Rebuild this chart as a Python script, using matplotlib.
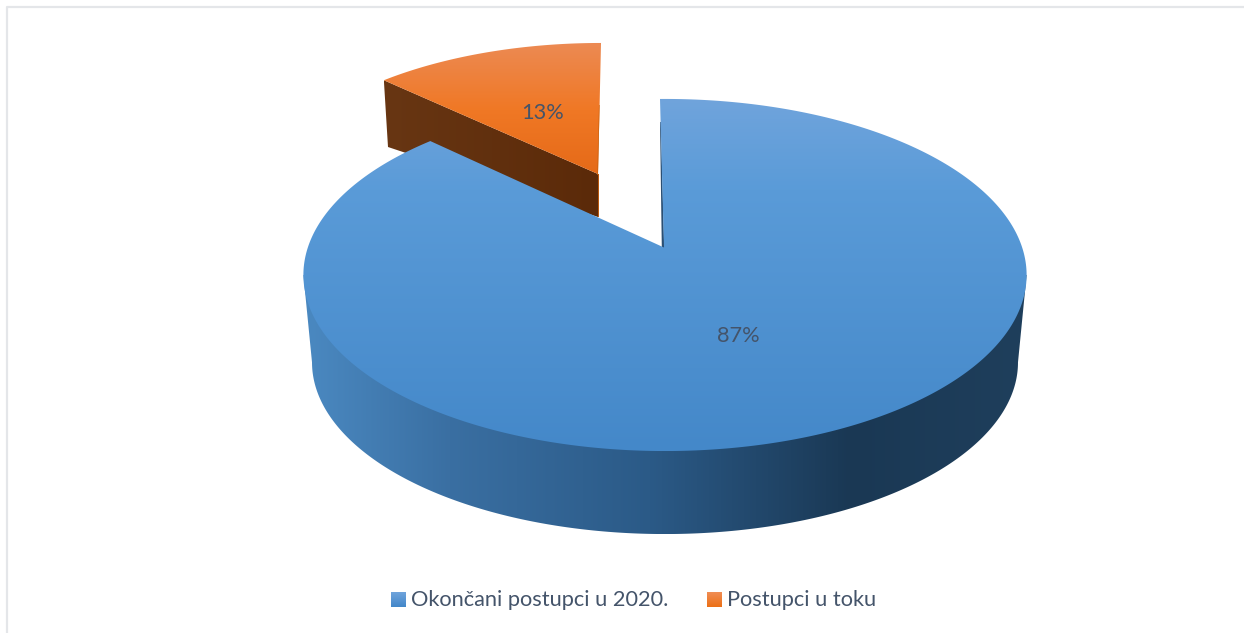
import numpy as np
import matplotlib
matplotlib.use("Agg")
import matplotlib.pyplot as plt
from matplotlib.patches import Polygon
from matplotlib.colors import to_rgb

categories = ["Okončani postupci u 2020.", "Postupci u toku"]
values = [87, 13]
TEXT = "#44546a"

plt.rcParams["font.family"] = ["Lato", "DejaVu Sans"]
fig = plt.figure(figsize=(12.44, 6.33), dpi=100)
ax = fig.add_axes([0, 0, 1, 1])
ax.set_xlim(0, 1244)
ax.set_ylim(633, 0)
ax.axis("off")

K = 0.159


def proj(theta, tip, a, b, scale=1.0, skew=0.0):
    """theta clockwise from 12 o'clock, degrees -> pixels, with perspective."""
    t = np.radians(theta)
    u, v = np.sin(t), np.cos(t)
    w = 1 + K * v
    dx = a * scale * u / w
    dy = -b * scale * v / w
    return np.c_[tip[0] + dx + skew * dy, tip[1] + dy]


def grad(poly, stops, horizontal=False, z=1):
    xy = np.asarray(poly, dtype=float)
    x0, x1 = xy[:, 0].min(), xy[:, 0].max()
    y0, y1 = xy[:, 1].min(), xy[:, 1].max()
    lo, hi = (x0, x1) if horizontal else (y0, y1)
    pos = np.linspace(lo, hi, 512)
    px = [p for p, _ in stops]
    rgb = np.array([to_rgb(c) for _, c in stops])
    col = np.stack([np.interp(pos, px, rgb[:, i]) for i in range(3)], axis=-1)
    arr = col[None, :, :] if horizontal else col[:, None, :]
    im = ax.imshow(arr, aspect="auto", zorder=z, extent=(x0, x1, y1, y0),
                   interpolation="bilinear")
    p = Polygon(xy, closed=True, transform=ax.transData, fc="none", ec="none")
    ax.add_patch(p)
    im.set_clip_path(p)
    ax.set_xlim(0, 1244)
    ax.set_ylim(633, 0)


small_deg = 360 * values[1] / sum(values)

# --- blue slice ---
TOP_C, TOP_A, TOP_B = (665, 247), 357, 171.6
BOT_C, BOT_A, BOT_B = (665, 335), 348.5, 167.4
BLUE_TIP = (664, 247.5)
th = np.linspace(-0.93, 360 - small_deg, 720)
top = proj(th, TOP_C, TOP_A, TOP_B)

# outer wall: front half of rim between silhouette extremes
ext = np.degrees(np.arccos(-K))
front = np.linspace(ext, 360 - ext, 400)
rim = proj(front, TOP_C, TOP_A, TOP_B)
rim_in = proj(front, TOP_C, TOP_A, TOP_B, scale=0.985)
wall = np.r_[rim[:1], rim_in, rim[-1:], proj(front, BOT_C, BOT_A, BOT_B)[::-1]]
grad(wall, [(310, "#4a88c0"), (450, "#3a6fa2"), (650, "#2b5a87"),
            (850, "#1a3854"), (1025, "#1f3f5c")], horizontal=True, z=2)

# thin visible inner wall next to the gap
inner = [(660, 122), (660.8, 122), (664.2, 248), (661.8, 248)]
ax.add_patch(Polygon(inner, closed=True, fc="#2b4f73", ec="none", zorder=3))

grad(np.r_[top, [BLUE_TIP]],
     [(99, "#70a4dc"), (190, "#5a9bd8"), (451, "#4488c9")], z=4)

# --- orange slice ---
O_TIP = (598, 174)
th2 = np.linspace(360 - small_deg, 360, 120)
o_arc = proj(th2, O_TIP, 329, TOP_B * 0.885, skew=-0.023)
o_top = np.r_[o_arc, [O_TIP]]
O_BOT_LEFT, O_BOT_TIP = (388, 147), (598, 217)
o_wall = [tuple(o_arc[0]), O_TIP, O_BOT_TIP, O_BOT_LEFT]
grad(o_wall, [(384, "#683613"), (598, "#5b2a09")], horizontal=True, z=1.5)
grad(o_top, [(44, "#ec8a53"), (110, "#f07825"), (174, "#e56a18")], z=1.6)
ax.add_patch(Polygon([(599.0, 105), (599.6, 105), (598, 175), (597.2, 175)], closed=True,
                     fc="#c9620f", ec="none", zorder=1.7))
ax.add_patch(Polygon([(597.8, 174), (599, 174), (599, 217), (597.8, 217)], closed=True,
                     fc="#b9590f", ec="none", zorder=1.7))

# --- labels ---
ax.text(738, 336, f"{values[0]}%", color=TEXT, fontsize=15.7, ha="center", va="center", zorder=6)
ax.text(543, 113, f"{values[1]}%", color=TEXT, fontsize=15.7, ha="center", va="center", zorder=6)

# --- legend ---
for x0, name, stops in [(391, categories[0], ("#70a4dc", "#4287c9")),
                        (707, categories[1], ("#f08d55", "#ec6f15"))]:
    sq = [(x0, 592), (x0 + 15, 592), (x0 + 15, 607), (x0, 607)]
    grad(sq, [(592, stops[0]), (607, stops[1])], z=6)
    ax.text(x0 + 20, 600, name, color=TEXT, fontsize=15.7, ha="left", va="center", zorder=6)

# --- chart frame ---
ax.plot([6.5, 6.5, 1244], [633, 6.5, 6.5], color="#e4e6e9", lw=1.6, zorder=0)

fig.savefig("out.png", dpi=100)
